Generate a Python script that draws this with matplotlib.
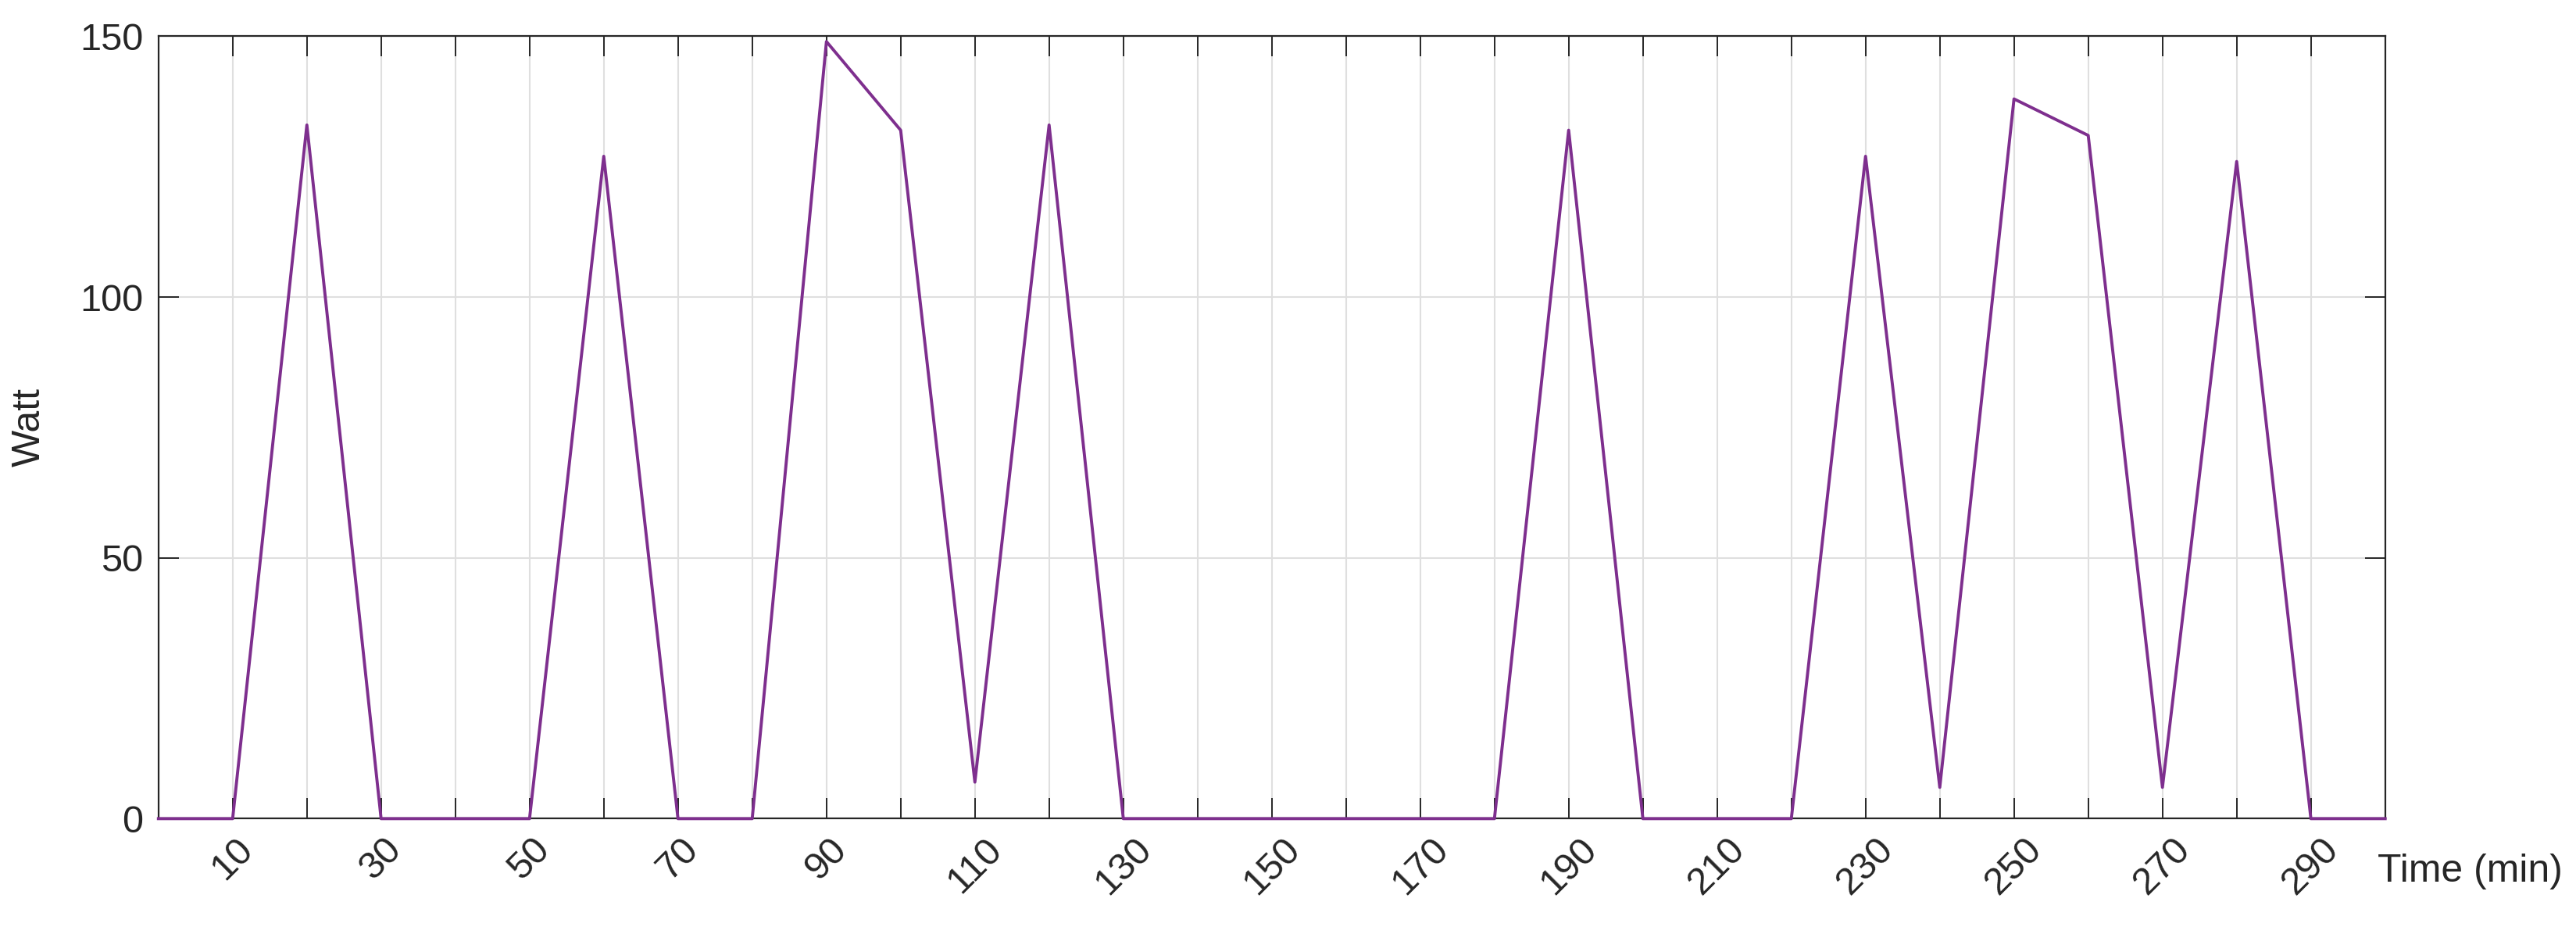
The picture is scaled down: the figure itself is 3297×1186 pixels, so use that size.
import numpy as np
import matplotlib
matplotlib.use("Agg")
import matplotlib.pyplot as plt

# ---- data ----
time_min = [0, 10, 20, 30, 40, 50, 60, 70, 80, 90, 100, 110, 120, 130, 140, 150,
            160, 170, 180, 190, 200, 210, 220, 230, 240, 250, 260, 270, 280, 290, 300]
watt = [0, 0, 133, 0, 0, 0, 127, 0, 0, 149, 132, 7, 133, 0, 0, 0,
        0, 0, 0, 132, 0, 0, 0, 127, 6, 138, 131, 6, 126, 0, 0]
x_ticks = [0, 10, 20, 30, 40, 50, 60, 70, 80, 90, 100, 110, 120, 130, 140, 150,
           160, 170, 180, 190, 200, 210, 220, 230, 240, 250, 260, 270, 280, 290, 300]
x_tick_labels = ["", "10", "", "30", "", "50", "", "70", "", "90", "", "110", "", "130",
                 "", "150", "", "170", "", "190", "", "210", "", "230", "", "250", "",
                 "270", "", "290", ""]
y_ticks = [0, 50, 100, 150]
y_tick_labels = ["0", "50", "100", "150"]
x_label = "Time (min)"
y_label = "Watt"

plt.rcParams['font.family'] = ['Liberation Sans', 'DejaVu Sans']
text_color = '#262626'

fig = plt.figure(figsize=(32.97, 11.86), dpi=100)
ax = fig.add_axes([0.0615, 0.1169, 0.9259 - 0.0615, 0.9608 - 0.1169])

ax.plot(time_min, watt, color='#7E2F8E', lw=2.8, zorder=5, clip_on=False)

ax.set_xlim(0, 300)
ax.set_ylim(0, 150)
ax.set_xticks(x_ticks)
ax.set_xticklabels(x_tick_labels, rotation=45, ha='center', va='top')
ax.set_yticks(y_ticks)
ax.set_yticklabels(y_tick_labels)

ax.grid(True, color='#DFDFDF', lw=1.5, zorder=0)
ax.set_axisbelow(True)

ax.tick_params(axis='both', direction='in', length=19, width=1.4, colors=text_color,
               labelsize=35, top=True, right=True)
ax.tick_params(axis='x', pad=12)
ax.tick_params(axis='y', pad=14)

for s in ax.spines.values():
    s.set_color(text_color)
    s.set_linewidth(1.6)

ax.set_xlabel(x_label, fontsize=36, color=text_color, ha='left', va='center')
ax.xaxis.set_label_coords(0.9966, -0.0676)
ax.set_ylabel(y_label, fontsize=36, color=text_color, va='center')
ax.yaxis.set_label_coords(-0.058, 0.5)

fig.savefig("out.png", dpi=100)
